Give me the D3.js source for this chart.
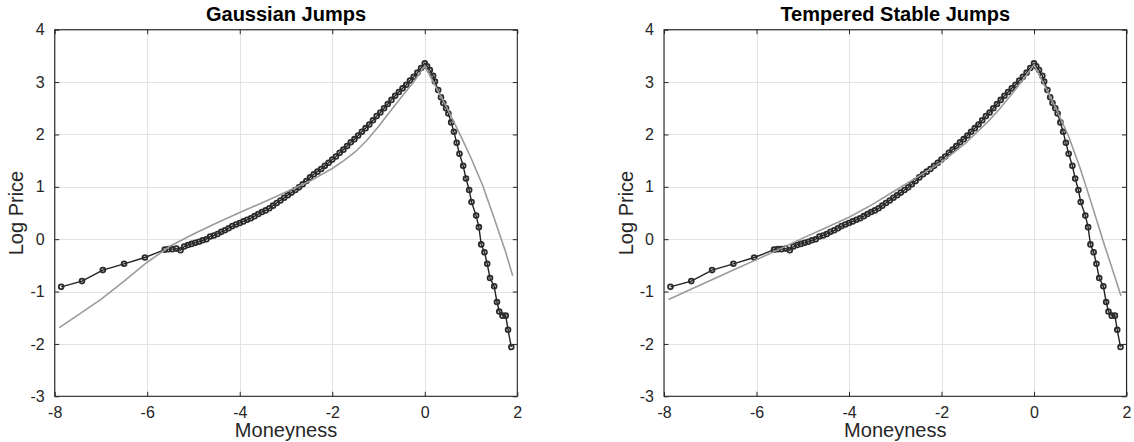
<!DOCTYPE html>
<html>
<head>
<meta charset="utf-8">
<script src="https://cdn.jsdelivr.net/npm/d3@7"></script>
<style>
  html, body { margin: 0; padding: 0; background: #fff; }
  svg { display: block; }
  text { font-family: "Liberation Sans", Arial, Helvetica, sans-serif; fill: #262626; }
</style>
</head>
<body>
<svg id="chart" width="1134" height="442"></svg>
<script>
// Observed option log prices against moneyness
const obsX = [
  -7.86, -7.41, -6.96, -6.50, -6.05, -5.62,
  -5.54, -5.46, -5.37, -5.28, -5.20, -5.12, -5.04, -4.96, -4.88, -4.80,
  -4.72, -4.64, -4.56, -4.48, -4.40, -4.32, -4.24, -4.16, -4.08, -4.00,
  -3.92, -3.84, -3.76, -3.68, -3.60, -3.52, -3.44, -3.36, -3.28, -3.20,
  -3.12, -3.04, -2.96, -2.88, -2.80, -2.72, -2.64, -2.56, -2.48, -2.40,
  -2.32, -2.24, -2.16, -2.08, -2.00, -1.92, -1.84, -1.76, -1.68, -1.60,
  -1.52, -1.44, -1.36, -1.28, -1.20, -1.12, -1.04, -0.96, -0.88, -0.80,
  -0.72, -0.64, -0.56, -0.48, -0.40, -0.32, -0.24, -0.16, -0.08, 0.00,
  0.05, 0.11, 0.18, 0.22, 0.29, 0.35, 0.40, 0.46, 0.51, 0.57, 0.63, 0.69,
  0.75, 0.83, 0.89, 0.96, 1.01, 1.11, 1.17, 1.22, 1.29, 1.35, 1.41, 1.50,
  1.56, 1.61, 1.68, 1.75, 1.80, 1.87
];
const obsY = [
  -0.91, -0.80, -0.59, -0.47, -0.35, -0.20,
  -0.19, -0.19, -0.18, -0.21, -0.14, -0.11, -0.09, -0.07, -0.05, -0.02,
  0.00, 0.05, 0.07, 0.10, 0.14, 0.17, 0.21, 0.25, 0.28, 0.31,
  0.34, 0.37, 0.40, 0.44, 0.48, 0.52, 0.55, 0.59, 0.64, 0.69,
  0.74, 0.79, 0.84, 0.89, 0.94, 0.99, 1.05, 1.11, 1.18, 1.24,
  1.29, 1.34, 1.40, 1.46, 1.52, 1.58, 1.65, 1.71, 1.78, 1.85,
  1.91, 1.98, 2.05, 2.12, 2.19, 2.27, 2.35, 2.42, 2.50, 2.58,
  2.66, 2.74, 2.81, 2.88, 2.95, 3.03, 3.10, 3.18, 3.27, 3.36,
  3.30, 3.23, 3.12, 3.01, 2.85, 2.71, 2.60, 2.50, 2.40, 2.23, 2.05, 1.84,
  1.63, 1.40, 1.16, 0.94, 0.71, 0.45, 0.23, -0.10, -0.25, -0.47, -0.74, -0.90,
  -1.20, -1.38, -1.46, -1.46, -1.73, -2.06
];

// Fitted model prices: Gaussian jump model
const gaussX = [-7.9, -7.5, -7.0, -6.5, -6.0, -5.5, -5.0, -4.5, -4.0, -3.5, -3.0, -2.5, -2.0,
  -1.75, -1.5, -1.25, -1.0, -0.75, -0.5, -0.25, 0, 0.25, 0.5, 0.75, 1.0, 1.25, 1.5, 1.75, 1.9];
const gaussY = [-1.69, -1.45, -1.15, -0.80, -0.44, -0.13, 0.10, 0.31, 0.51, 0.70, 0.90, 1.10, 1.35,
  1.50, 1.67, 1.89, 2.15, 2.44, 2.72, 2.99, 3.31, 2.89, 2.47, 2.02, 1.55, 1.03, 0.40, -0.25, -0.70];

// Fitted model prices: tempered stable jump model
const tempX = [-7.9, -7.5, -7.0, -6.5, -6.0, -5.5, -5.0, -4.5, -4.0, -3.5, -3.0, -2.5, -2.0,
  -1.5, -1.0, -0.75, -0.5, -0.25, 0, 0.25, 0.5, 0.75, 1.0, 1.25, 1.5, 1.75, 1.88];
const tempY = [-1.15, -0.99, -0.79, -0.59, -0.39, -0.19, 0.02, 0.22, 0.42, 0.66, 0.93, 1.20, 1.47,
  1.82, 2.24, 2.48, 2.75, 3.03, 3.33, 2.90, 2.45, 1.96, 1.35, 0.66, -0.05, -0.72, -1.08];

const xTicks = [-8, -6, -4, -2, 0, 2];
const yTicks = [-3, -2, -1, 0, 1, 2, 3, 4];
const panelTitles = ["Gaussian Jumps", "Tempered Stable Jumps"];
const xLabel = "Moneyness";
const yLabel = "Log Price";

const svg = d3.select("#chart");
const axisColor = "#262626";
const plotTop = 29.7, plotBottom = 396.3;

const panels = [
  { left: 54.7, right: 517.3, title: panelTitles[0], mx: gaussX, my: gaussY },
  { left: 664.0, right: 1126.5, title: panelTitles[1], mx: tempX, my: tempY }
];

const obs = obsX.map((x, i) => ({ x, y: obsY[i] }));

panels.forEach(p => {
  const x = d3.scaleLinear().domain([-8, 2]).range([p.left, p.right]);
  const y = d3.scaleLinear().domain([-3, 4]).range([plotBottom, plotTop]);
  const g = svg.append("g");

  // grid
  g.append("g").selectAll("line").data(xTicks).join("line")
    .attr("x1", d => Math.round(x(d)) + 0.5).attr("x2", d => Math.round(x(d)) + 0.5)
    .attr("y1", plotTop).attr("y2", plotBottom)
    .attr("stroke", "#e3e3e3").attr("stroke-width", 1);
  g.append("g").selectAll("line").data(yTicks).join("line")
    .attr("y1", d => Math.round(y(d)) + 0.5).attr("y2", d => Math.round(y(d)) + 0.5)
    .attr("x1", p.left).attr("x2", p.right)
    .attr("stroke", "#e3e3e3").attr("stroke-width", 1);

  // observed series: line with circle markers
  const line = d3.line().x(d => x(d.x)).y(d => y(d.y));
  g.append("path").datum(obs).attr("d", line)
    .attr("fill", "none").attr("stroke", "#222").attr("stroke-width", 1.4);
  g.append("g").selectAll("circle").data(obs).join("circle")
    .attr("cx", d => x(d.x)).attr("cy", d => y(d.y)).attr("r", 2.4)
    .attr("fill", "none").attr("stroke", "#2b2b2b").attr("stroke-width", 1.8);

  // model curve
  const model = p.mx.map((v, i) => ({ x: v, y: p.my[i] }));
  g.append("path").datum(model).attr("d", line)
    .attr("fill", "none").attr("stroke", "#9b9b9b").attr("stroke-width", 1.6);

  // axes with inward ticks
  const styleAxis = sel => {
    sel.select(".domain").remove();
    sel.selectAll(".tick line").attr("stroke", axisColor);
    sel.selectAll(".tick text").attr("fill", axisColor)
      .style("font-size", "16px").style("font-family", '"Liberation Sans", Arial, sans-serif');
  };
  const fmt = d => d < 0 ? "-" + Math.abs(d) : String(d);
  const xb = g.append("g").attr("transform", `translate(0,${plotBottom})`)
    .call(d3.axisBottom(x).tickValues(xTicks).tickSizeInner(-4.5).tickSizeOuter(0).tickPadding(10)
      .tickFormat(fmt));
  styleAxis(xb);
  const xt = g.append("g").attr("transform", `translate(0,${plotTop})`)
    .call(d3.axisTop(x).tickValues(xTicks).tickSizeInner(-4.5).tickSizeOuter(0).tickFormat(""));
  styleAxis(xt);
  const yl = g.append("g").attr("transform", `translate(${p.left},0)`)
    .call(d3.axisLeft(y).tickValues(yTicks).tickSizeInner(-4.5).tickSizeOuter(0).tickPadding(10)
      .tickFormat(fmt));
  styleAxis(yl);
  const yr = g.append("g").attr("transform", `translate(${p.right},0)`)
    .call(d3.axisRight(y).tickValues(yTicks).tickSizeInner(-4.5).tickSizeOuter(0).tickFormat(""));
  styleAxis(yr);

  // axes box
  g.append("rect").attr("x", p.left).attr("y", plotTop)
    .attr("width", p.right - p.left).attr("height", plotBottom - plotTop)
    .attr("fill", "none").attr("stroke", axisColor).attr("stroke-width", 1.1);

  const cx = (p.left + p.right) / 2;
  g.append("text").attr("x", cx).attr("y", 20.5).attr("text-anchor", "middle")
    .style("font-size", "20px").style("font-weight", "bold").style("fill", "#000")
    .text(p.title);
  g.append("text").attr("x", cx).attr("y", 436.5).attr("text-anchor", "middle")
    .style("font-size", "20px").text(xLabel);
  g.append("text")
    .attr("transform", `translate(${p.left - 31.5},${(plotTop + plotBottom) / 2}) rotate(-90)`)
    .attr("text-anchor", "middle").style("font-size", "20px").text(yLabel);
});
</script>
</body>
</html>
